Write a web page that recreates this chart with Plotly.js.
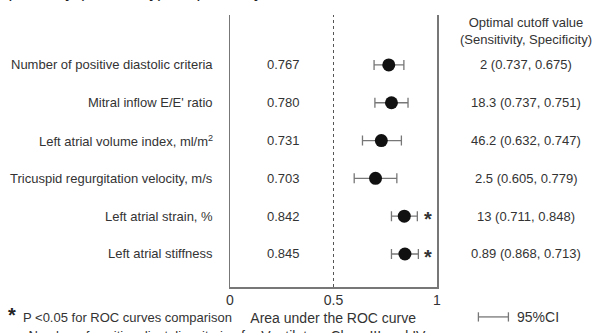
<!DOCTYPE html>
<html><head><meta charset="utf-8">
<script src="https://cdn.plot.ly/plotly-3.0.1.min.js"></script>
<style>html,body{margin:0;padding:0;background:#fff}</style>
</head><body><div id="c" style="width:603px;height:333px"></div>
<script>
const labels = ["Number of positive diastolic criteria","Mitral inflow E/E' ratio","Left atrial volume index, ml/m<sup>2</sup>","Tricuspid regurgitation velocity, m/s","Left atrial strain, %","Left atrial stiffness"];
const auc = [0.767, 0.780, 0.731, 0.703, 0.842, 0.845];
const ciLow = [0.696, 0.700, 0.640, 0.600, 0.780, 0.780];
const ciHigh = [0.840, 0.860, 0.828, 0.806, 0.905, 0.910];
const cutoff = ["2 (0.737, 0.675)","18.3 (0.737, 0.751)","46.2 (0.632, 0.747)","2.5 (0.605, 0.779)","13 (0.711, 0.848)","0.89 (0.868, 0.713)"];
const significant = [false,false,false,false,true,true];
const xTicks = [0, 0.5, 1];
const xTickText = ["0","0.5","1"];

const yPos = labels.map((_, i) => labels.length - 1 - i);
const font = {family:"Arial, Liberation Sans, sans-serif", size:13, color:"#333"};
const gray = "#777";

const trace = {
  x: auc, y: yPos, type:"scatter", mode:"markers",
  marker:{color:"#111", size:13},
  error_x:{type:"data", symmetric:false,
    array: auc.map((v,i)=>ciHigh[i]-v),
    arrayminus: auc.map((v,i)=>v-ciLow[i]),
    color:"#777", thickness:1.3, width:5},
  hoverinfo:"skip", cliponaxis:false
};

const ann = [];
labels.forEach((l,i)=>{
  ann.push({xref:"paper", yref:"y", x:-0.072, y:yPos[i], text:l, showarrow:false, xanchor:"right", yanchor:"middle", font});
  ann.push({xref:"paper", yref:"y", x:0.26, y:yPos[i], text:auc[i].toFixed(3), showarrow:false, xanchor:"center", yanchor:"middle", font});
  ann.push({xref:"paper", yref:"y", x:1.43, y:yPos[i], text:cutoff[i], showarrow:false, xanchor:"center", yanchor:"middle", font});
  if (significant[i]) ann.push({xref:"paper", yref:"y", x:0.957, y:yPos[i]-0.08, text:"<b>*</b>", showarrow:false, xanchor:"center", yanchor:"middle", font:{family:font.family,size:20,color:"#333"}});
});
ann.push({xref:"paper", yref:"paper", x:1.43, y:0.941, text:"Optimal cutoff value<br>(Sensitivity, Specificity)", showarrow:false, xanchor:"center", yanchor:"middle", font, align:"center"});
ann.push({xref:"paper", yref:"paper", x:0.5, y:-0.078, text:"Area under the ROC curve<br>for Ventilatory Class III and IV", showarrow:false, xanchor:"center", yanchor:"top", font:{family:font.family,size:14,color:"#333"}, align:"center"});
ann.push({xref:"paper", yref:"paper", x:-1.075, y:-0.058, text:"<b>*</b>", showarrow:false, xanchor:"left", yanchor:"top", font:{family:font.family,size:20,color:"#222"}, borderpad:0});
ann.push({xref:"paper", yref:"paper", x:-1.01, y:-0.077, text:"P <0.05 for ROC curves comparison", showarrow:false, xanchor:"left", yanchor:"top", font});
ann.push({xref:"paper", yref:"paper", x:-1.065, y:-0.142, text:"vs Number of positive diastolic criteria", showarrow:false, xanchor:"left", yanchor:"top", font});
ann.push({xref:"paper", yref:"paper", x:1.375, y:-0.110, text:"95%CI", showarrow:false, xanchor:"left", yanchor:"middle", font:{family:font.family,size:14,color:"#333"}});
ann.push({xref:"paper", yref:"paper", x:-1.12, y:1.041, text:"specificity (sensitivity), respectively", showarrow:false, xanchor:"left", yanchor:"bottom", font:{family:font.family,size:17,color:"#222"}});

const legY = -0.110;
const shapes = [
  {type:"line", xref:"x", yref:"paper", x0:0.5, x1:0.5, y0:0, y1:1, line:{color:"#555", width:1, dash:"dot"}},
  {type:"line", xref:"paper", yref:"paper", x0:1.2, x1:1.345, y0:legY, y1:legY, line:{color:gray, width:1.3}},
  {type:"line", xref:"paper", yref:"paper", x0:1.2, x1:1.2, y0:legY-0.017, y1:legY+0.017, line:{color:gray, width:1.3}},
  {type:"line", xref:"paper", yref:"paper", x0:1.345, x1:1.345, y0:legY-0.017, y1:legY+0.017, line:{color:gray, width:1.3}}
];

const layout = {
  width:603, height:333,
  margin:{l:230, r:166, t:15, b:46},
  paper_bgcolor:"#fff", plot_bgcolor:"#fff",
  showlegend:false,
  font,
  xaxis:{range:[0,1], tickvals:xTicks, ticktext:xTickText, showgrid:false, zeroline:false,
    showline:true, linecolor:gray, linewidth:1.5, ticks:"", tickfont:{family:font.family,size:14,color:"#333"}, fixedrange:true},
  yaxis:{range:[-0.873, 6.32], showgrid:false, zeroline:false, showticklabels:false, ticks:"",
    showline:true, mirror:true, linecolor:gray, linewidth:1.5, fixedrange:true},
  annotations: ann,
  shapes
};
Plotly.newPlot("c", [trace], layout, {displayModeBar:false, staticPlot:true});
</script></body></html>
